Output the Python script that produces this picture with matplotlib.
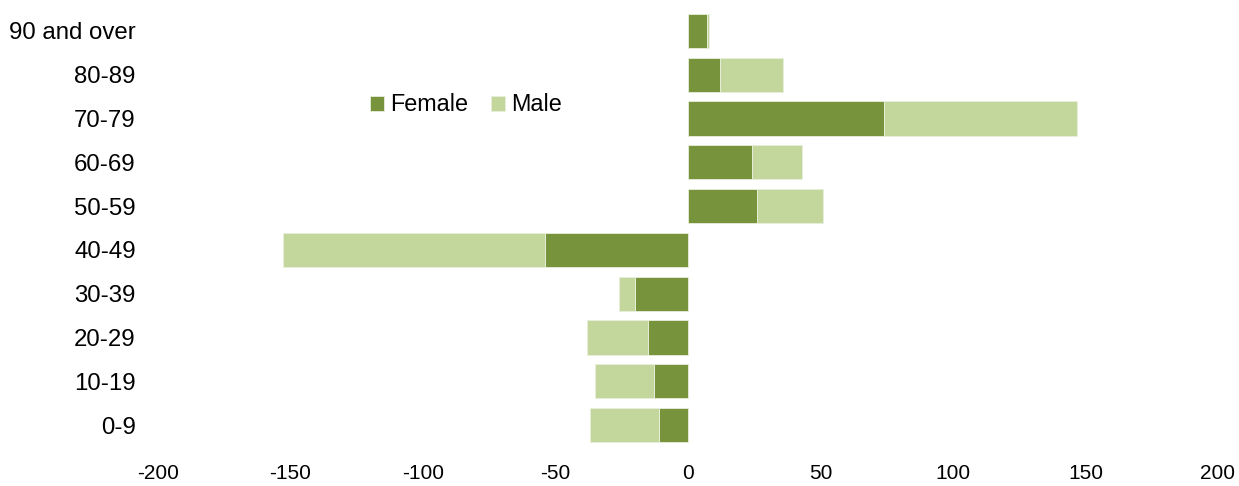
import matplotlib.pyplot as plt

# age groups, bottom to top
ages = ["0-9", "10-19", "20-29", "30-39", "40-49", "50-59", "60-69", "70-79", "80-89", "90 and over"]
female = [-11, -13, -15, -20, -54, 26, 24, 74, 12, 7]
male = [-26, -22, -23, -6, -99, 25, 19, 73, 24, 1]

dark = "#77933C"
light = "#C3D69B"

plt.rcParams["axes.unicode_minus"] = False
plt.rcParams["font.family"] = "Liberation Sans"

fig = plt.figure(figsize=(12.39, 4.86), dpi=100)
ax = fig.add_axes([0.1275, 0.0802, 0.8555, 0.9013])

y = range(len(ages))
ax.barh(y, female, height=0.78, color=dark, label="Female", edgecolor="#e8efdc", linewidth=0.6)
ax.barh(y, male, left=female, height=0.78, color=light, label="Male", edgecolor="#e8efdc", linewidth=0.6)

ax.set_xlim(-200, 200)
ax.set_ylim(-0.5, len(ages) - 0.5)
ax.set_xticks(range(-200, 201, 50))
ax.set_yticks(list(y))
ax.set_yticklabels(ages)

for s in ax.spines.values():
    s.set_visible(False)
ax.tick_params(axis="y", length=0, labelsize=17.3, pad=16)
ax.tick_params(axis="x", length=0, labelsize=15, pad=12.5)

ax.legend(loc="center left", bbox_to_anchor=(0.2, 0.781), ncol=2, frameon=False,
          fontsize=16.8, handlelength=0.6, handleheight=0.6, borderpad=0, borderaxespad=0,
          handletextpad=0.25, columnspacing=1.0)

fig.savefig("out.png", dpi=100)
